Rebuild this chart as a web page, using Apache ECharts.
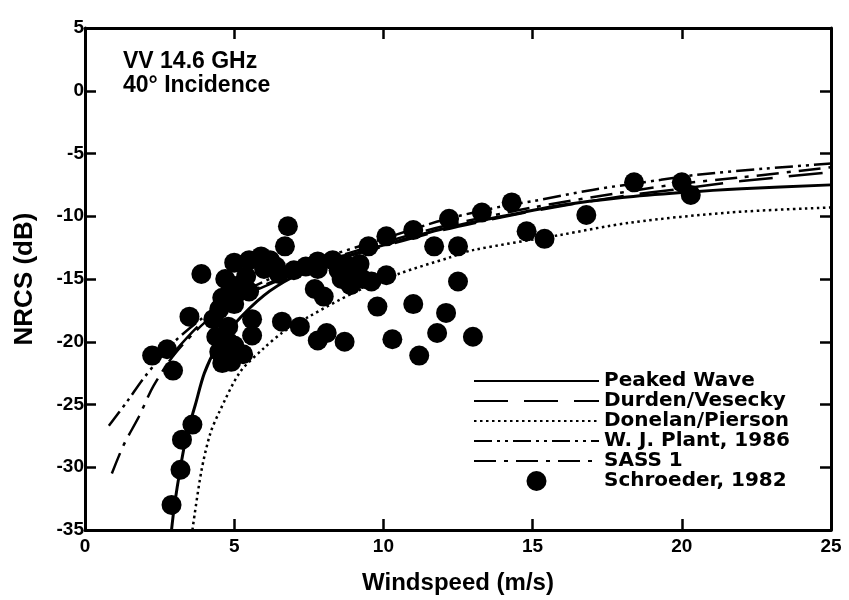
<!DOCTYPE html>
<html>
<head>
<meta charset="utf-8">
<script src="https://cdn.jsdelivr.net/npm/echarts@6/dist/echarts.min.js"></script>
<style>
  html, body { margin: 0; background: #fff; }
  #chart { width: 849px; height: 600px; }
</style>
</head>
<body>
<div id="chart"></div>
<script>
// model curves, [windspeed m/s, NRCS dB]
var peakedWave = [[2.9,-35],[3.0,-33],[3.2,-30],[3.4,-27.5],[3.7,-25],[4.0,-22.5],[4.4,-20.5],[5,-18.6],[6,-16.3],[7,-14.8],[8,-13.8],[9,-13],[10,-12.3],[12,-11],[14,-10],[16,-9.1],[18,-8.5],[20,-8.1],[22,-7.8],[25,-7.5]]
var durdenVesecky = [[3,-20.8],[4,-18.3],[5,-16.8],[6,-15.6],[8,-13.8],[10,-12.4],[12,-11.1],[15,-9.6],[18,-8.4],[20,-7.8],[22,-7.2],[25,-6.5]]
var donelanPierson = [[3.6,-35],[3.9,-30.3],[4.2,-27.3],[4.5,-25.6],[5.2,-22.4],[6,-20.5],[6.6,-19.3],[7.5,-18],[9,-16.1],[10.5,-14.6],[12.2,-13.3],[13,-12.7],[15.9,-11.5],[18.3,-10.5],[21.6,-9.7],[25,-9.3]]
var plant1986 = [[0.8,-26.7],[1.4,-24.8],[2,-22.8],[3,-20],[4,-18],[5,-16.4],[6,-15.2],[7,-14.2],[8,-13.3],[10,-11.8],[12,-10.3],[14,-9.2],[15,-8.8],[17,-7.9],[19.3,-7.1],[20.5,-6.7],[22.8,-6.2],[25,-5.8]]
var sass1 = [[0.9,-30.5],[1.3,-28.2],[1.8,-26],[2.3,-23.5],[3,-21],[4,-18.5],[5,-16.8],[6,-15.5],[8,-13.6],[10,-12.1],[12,-10.8],[15,-9.3],[18,-8.1],[20,-7.4],[22,-6.9],[25,-6.1]]
// Schroeder, 1982 measurements
var schroeder = [[2.25,-21.1],[2.75,-20.6],[2.95,-22.3],[2.9,-33],[3.2,-30.2],[3.25,-27.8],[3.6,-26.6],[3.5,-18.0],[3.9,-14.6],
  [4.5,-20.8],[4.6,-21.7],[4.8,-20.0],[5.0,-20.3],[5.3,-21.0],[4.8,-18.8],[4.5,-17.4],[5.0,-17.0],[5.1,-16.1],[5.0,-13.7],[5.4,-14.8],[5.6,-18.2],[5.2,-15.5],[4.9,-15.5],
  [4.3,-18.2],[4.4,-19.6],[4.9,-21.6],[5.6,-19.5],[4.7,-15.0],[4.6,-16.5],[5.5,-16.0],[5.5,-13.5],
  [5.9,-13.2],[6.4,-14.0],[6.8,-10.8],[6.7,-12.4],[6.6,-18.4],[7.2,-18.8],[7.7,-15.8],[8.0,-16.4],[7.8,-13.6],[8.1,-19.3],[7.8,-19.9],[8.7,-20.0],[8.6,-15.0],[8.7,-13.8],[9.0,-14.5],[9.5,-12.4],[9.8,-17.2],[10.1,-11.6],[10.1,-14.7],[9.6,-15.2],
  [6.2,-13.5],[6.5,-14.6],[7.0,-14.3],[7.8,-14.2],[8.5,-14.3],[9.2,-13.8],[9.3,-15.0],[8.9,-15.5],
  [11.0,-11.1],[10.3,-19.8],[11.0,-17.0],[11.2,-21.1],[11.8,-19.3],[12.1,-17.7],[12.2,-10.2],[11.7,-12.4],[12.5,-12.4],[12.5,-15.2],[13.0,-19.6],[13.3,-9.7],[14.3,-8.9],[14.8,-11.2],[15.4,-11.8],[16.8,-9.9],[18.4,-7.3],[20.0,-7.3],[20.3,-8.3],[6.0,-14.2],[7.4,-14.0],[8.3,-13.5]]
var seriesNames = ['Peaked Wave', 'Durden/Vesecky', 'Donelan/Pierson', 'W. J. Plant, 1986', 'SASS 1', 'Schroeder, 1982']

var font = '"Liberation Sans", Arial, sans-serif'
var wideFont = '"DejaVu Sans", "Liberation Sans", sans-serif'
var chart = echarts.init(document.getElementById('chart'))

function curve(name, data, width, type) {
  return {
    name: name,
    type: 'line',
    data: data,
    smooth: 0.3,
    symbol: 'none',
    z: 3,
    itemStyle: { color: '#000' },
    lineStyle: { color: '#000', width: width, type: type }
  }
}

var axisLine = { onZero: false, lineStyle: { color: '#000', width: 3 } }
var axisTick = { inside: true, length: 11, lineStyle: { color: '#000', width: 2.5 } }

// legend entries: hide the circle that line series put in their legend icon
var legendData = seriesNames.map(function (n, i) {
  return i < 5 ? { name: n, itemStyle: { opacity: 0 } } : { name: n }
})

chart.setOption({
  animation: false,
  textStyle: { fontFamily: font, color: '#000' },
  grid: { left: 85, right: 18, top: 28, bottom: 68 },
  legend: {
    data: legendData,
    orient: 'vertical',
    left: 468,
    top: 366,
    itemWidth: 125,
    itemHeight: 20,
    itemGap: 0,
    textStyle: { fontSize: 20, fontWeight: 'bold', color: '#000', fontFamily: wideFont }
  },
  graphic: [{
    type: 'text',
    left: 123,
    top: 50,
    style: {
      text: 'VV 14.6 GHz\n40° Incidence',
      font: 'bold 23px ' + font,
      lineHeight: 24,
      fill: '#000'
    }
  }],
  xAxis: [{
    type: 'value',
    min: 0, max: 25, interval: 5,
    name: 'Windspeed (m/s)',
    nameLocation: 'middle',
    nameGap: 41,
    nameTextStyle: { fontSize: 24, fontWeight: 'bold', color: '#000' },
    axisLine: axisLine,
    axisTick: axisTick,
    splitLine: { show: false },
    axisLabel: { fontSize: 19, fontWeight: 'bold', color: '#000', margin: 7 }
  }, {
    type: 'value', position: 'top',
    min: 0, max: 25, interval: 5,
    axisLine: axisLine, axisTick: axisTick,
    splitLine: { show: false }, axisLabel: { show: false }
  }],
  yAxis: [{
    type: 'value',
    min: -35, max: 5, interval: 5,
    name: 'NRCS (dB)',
    nameLocation: 'middle',
    nameGap: 47,
    nameTextStyle: { fontSize: 26, fontWeight: 'bold', color: '#000' },
    axisLine: axisLine,
    axisTick: axisTick,
    splitLine: { show: false },
    axisLabel: { fontSize: 19, fontWeight: 'bold', color: '#000', margin: 1 }
  }, {
    type: 'value', position: 'right',
    min: -35, max: 5, interval: 5,
    axisLine: axisLine, axisTick: axisTick,
    splitLine: { show: false }, axisLabel: { show: false }
  }],
  series: [
    curve(seriesNames[0], peakedWave, 3, 'solid'),
    curve(seriesNames[1], durdenVesecky, 2.5, [34, 16]),
    curve(seriesNames[2], donelanPierson, 2.5, [2.5, 3.5]),
    curve(seriesNames[3], plant1986, 2.5, [18, 5, 3, 5, 3, 5]),
    curve(seriesNames[4], sass1, 2.5, [22, 8, 4, 8]),
    {
      name: seriesNames[5],
      type: 'scatter',
      data: schroeder,
      symbol: 'circle',
      symbolSize: 20,
      z: 2,
      itemStyle: { color: '#000', opacity: 1 }
    }
  ]
})
</script>
</body>
</html>
